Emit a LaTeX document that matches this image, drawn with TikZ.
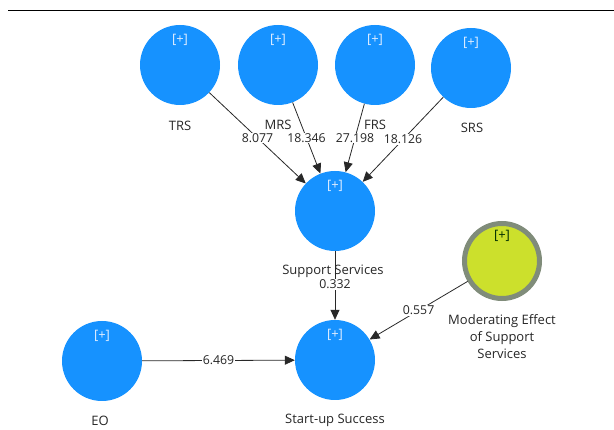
\documentclass[tikz,border=0pt]{standalone}
\usepackage{fontspec}
\setmainfont{Open Sans}
\usetikzlibrary{arrows.meta}
\definecolor{lvblue}{RGB}{22,146,255}
\definecolor{modfill}{RGB}{204,224,44}
\definecolor{modring}{RGB}{128,140,122}
\definecolor{plusw}{RGB}{225,238,255}
\definecolor{edgec}{RGB}{40,40,40}
\tikzset{
  lv/.style={circle, fill=lvblue, draw=none, minimum size=80pt, inner sep=0pt},
  modlv/.style={circle, fill=modfill, draw=modring, line width=5pt, minimum size=75pt, inner sep=0pt},
  plus/.style={font=\fontsize{13}{14}\selectfont, text=plusw, inner sep=0pt},
  lvname/.style={font=\fontsize{13}{16}\selectfont, text=black!85, inner sep=1pt, align=center},
  coef/.style={font=\fontsize{12.3}{14}\selectfont, fill=white, text=black!85, inner sep=0.6pt, pos=0.5},
  conn/.style={draw=edgec, line width=0.8pt, -{Triangle[length=10pt,width=9pt]}}
}
\begin{document}
\begin{tikzpicture}[x=1pt,y=-1pt]
\useasboundingbox (0,0) rectangle (614,430);
\coordinate (hlL) at (8,11);
\coordinate (hlR) at (614,11);
\draw[line width=1pt] (hlL) -- (hlR);
% latent variables
\node[lv] (trs) at (180,65) {};
\node[lv] (mrs) at (278,65) {};
\node[lv] (frs) at (375,65) {};
\node[lv] (srs) at (471,68) {};
\node[lv] (ss) at (335,211) {};
\node[lv] (su) at (335,360) {};
\node[lv] (eo) at (102,361) {};
\node[modlv] (mod) at (502,261) {};
% [+] markers
\node[plus] (ptrs) at (180,40) {[+]};
\node[plus] (pmrs) at (278,40) {[+]};
\node[plus] (pfrs) at (375,40) {[+]};
\node[plus] (psrs) at (471,43) {[+]};
\node[plus] (pss) at (335,186) {[+]};
\node[plus] (psu) at (335,335) {[+]};
\node[plus] (peo) at (102,336) {[+]};
\node[plus, text=black!70!green!60!black] (pmod) at (502,236) {[+]};
% names
\node[lvname] (ltrs) at (180,126) {TRS};
\node[lvname] (lmrs) at (278,125) {MRS};
\node[lvname] (lfrs) at (375,125) {FRS};
\node[lvname] (lsrs) at (472,128) {SRS};
\node[lvname] (lss) at (333,271) {Support Services};
\node[lvname] (lsu) at (335,420) {Start-up Success};
\node[lvname] (leo) at (100,421) {EO};
\node[lvname, font=\fontsize{13}{17}\selectfont] (lmod) at (502,337) {Moderating Effect\\of Support\\Services};
% connectors
\draw[conn] (trs) -- node[coef] {8.077} (ss);
\draw[conn] (mrs) -- node[coef] {18.346} (ss);
\draw[conn] (frs) -- node[coef] {27.198} (ss);
\draw[conn] (srs) -- node[coef] {18.126} (ss);
\draw[conn] (ss) -- node[coef, yshift=1pt] {0.332} (su);
\draw[conn] (mod) -- node[coef] {0.557} (su);
\draw[conn] (eo) -- node[coef] {6.469} (su);
\end{tikzpicture}
\end{document}
